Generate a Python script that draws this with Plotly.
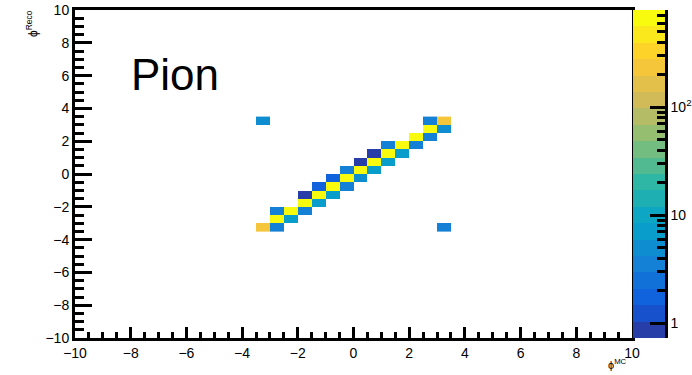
import numpy as np
import plotly.graph_objects as go

# ---------------- data (counts per 0.5 x 0.5 bin) ----------------
bin_centers = [-3.25, -2.75, -2.25, -1.75, -1.25, -0.75, -0.25,
               0.25, 0.75, 1.25, 1.75, 2.25, 2.75, 3.25]
# diagonal (phi_Reco == phi_MC), index k -> (x=k, y=k)
diag_counts = [230, 612, 655, 702, 688, 731, 749, 760, 720, 694, 671, 640, 598, 235]
# one bin below the diagonal, index k -> (x=k, y=k-1); k = 1..13
sub_counts = [None, 3, 7, 3, 7, 7, 4, 5, 7, 7, 7, 4, 4, 5]
# one bin above the diagonal, index k -> (x=k, y=k+1); k = 0..12
super_counts = [None, 3, None, 1, 2, 2, 3, 1, 1, 3, None, None, 4, None]
# wrap-around outliers: (x index, y index, count)
outlier_x = [0, 13]
outlier_y = [13, 0]
outlier_counts = [5, 3]

z_log_min = -0.139
z_log_max = 2.90
n_bands = 20

# ---------------- build matrix ----------------
n = len(bin_centers)
Z = [[None] * n for _ in range(n)]
for k, v in enumerate(diag_counts):
    Z[k][k] = v
for k, v in enumerate(sub_counts):
    if v is not None and k - 1 >= 0:
        Z[k - 1][k] = v
for k, v in enumerate(super_counts):
    if v is not None and k + 1 < n:
        Z[k + 1][k] = v
for xi, yi, v in zip(outlier_x, outlier_y, outlier_counts):
    Z[yi][xi] = v
Zlog = [[(np.log10(v) if v is not None else None) for v in row] for row in Z]

# ---------------- ROOT kBird palette, 20 contour bands ----------------
stops = [0.0, 0.125, 0.25, 0.375, 0.5, 0.625, 0.75, 0.875, 1.0]
red = [0.2082, 0.0592, 0.0780, 0.0232, 0.1802, 0.5301, 0.8186, 0.9956, 0.9764]
green = [0.1664, 0.3599, 0.5041, 0.6419, 0.7178, 0.7492, 0.7328, 0.7862, 0.9832]
blue = [0.5293, 0.8684, 0.8385, 0.7914, 0.6425, 0.4662, 0.3499, 0.1968, 0.0539]


def bird(t):
    r = np.interp(t, stops, red)
    g = np.interp(t, stops, green)
    b = np.interp(t, stops, blue)
    return "rgb(%d,%d,%d)" % (round(r * 255), round(g * 255), round(b * 255))


band_colors = []
for i in range(n_bands):
    idx = int((i + 0.99) * 255 / n_bands)
    band_colors.append(bird(min(idx, 254) / 254))

colorscale = []
for i, c in enumerate(band_colors):
    colorscale.append([i / n_bands, c])
    colorscale.append([(i + 1) / n_bands, c])

W, H = 692, 375
fl, fr, ft, fb = 75, 632, 10, 338
pl, pr = 633, 665

fig = go.Figure()

fig.add_trace(go.Heatmap(
    x=bin_centers, y=bin_centers, z=Zlog,
    zmin=z_log_min, zmax=z_log_max,
    colorscale=colorscale, showscale=False,
    hoverongaps=False,
    xaxis="x", yaxis="y",
))

# palette drawn as its own heatmap on a log-unit axis
band_edges = list(np.linspace(z_log_min, z_log_max, n_bands + 1))
band_mid = [[(band_edges[i] + band_edges[i + 1]) / 2] for i in range(n_bands)]
fig.add_trace(go.Heatmap(
    x=[0, 1], y=band_edges, z=band_mid,
    zmin=z_log_min, zmax=z_log_max,
    colorscale=colorscale, showscale=False,
    xaxis="x2", yaxis="y2",
))

font = "Liberation Sans, Arial, Helvetica, sans-serif"
axis_common = dict(
    showline=True, linecolor="black", linewidth=3, mirror=True,
    ticks="inside", tickcolor="black", tickwidth=2.5,
    showgrid=False, zeroline=False, automargin=False,
    tickfont=dict(family=font, size=14, color="black"),
)

fig.update_layout(
    width=W, height=H,
    margin=dict(l=0, r=0, t=0, b=0),
    paper_bgcolor="white", plot_bgcolor="white",
    xaxis=dict(
        domain=[fl / W, fr / W], range=[-10, 10],
        tickmode="linear", tick0=-10, dtick=2, ticklen=11,
        minor=dict(dtick=0.5, tick0=-10, ticks="inside", ticklen=6,
                   tickwidth=2.5, tickcolor="black", showgrid=False),
        anchor="y", **axis_common,
    ),
    yaxis=dict(
        domain=[1 - fb / H, 1 - ft / H], range=[-10, 10],
        tickmode="linear", tick0=-10, dtick=2, ticklen=17,
        minor=dict(dtick=0.5, tick0=-10, ticks="inside", ticklen=8.5,
                   tickwidth=2.5, tickcolor="black", showgrid=False),
        anchor="x", **axis_common,
    ),
    xaxis2=dict(
        domain=[pl / W, pr / W], range=[0, 1], visible=False,
        anchor="y2", fixedrange=True, automargin=False,
    ),
    yaxis2=dict(
        domain=[1 - fb / H, 1 - ft / H], range=[z_log_min, z_log_max],
        anchor="x2", side="right", automargin=False,
        showline=True, linecolor="black", linewidth=2.5,
        ticks="inside", tickcolor="black", tickwidth=2.5, ticklen=15,
        tickmode="array", tickvals=[0, 1, 2], ticktext=["1", "10", "10<sup>2</sup>"],
        minor=dict(tickmode="array",
                   tickvals=[float(np.log10(m * d)) for d in (1, 10, 100)
                             for m in range(2, 10) if np.log10(m * d) < z_log_max],
                   ticks="inside", ticklen=8, tickwidth=2.5, tickcolor="black",
                   showgrid=False),
        showgrid=False, zeroline=False,
        tickfont=dict(family=font, size=14, color="black"),
    ),
    annotations=[
        dict(text="Pion", xref="paper", yref="paper",
             x=129 / W, y=1 - 74 / H, xanchor="left", yanchor="middle",
             showarrow=False, font=dict(family=font, size=44, color="black")),
        dict(text="ϕ<sup>Reco</sup>", xref="paper", yref="paper",
             x=32 / W, y=1 - 24 / H, xanchor="center", yanchor="middle",
             textangle=-90, showarrow=False,
             font=dict(family=font, size=12, color="black")),
        dict(text="ϕ<sup>MC</sup>", xref="paper", yref="paper",
             x=617 / W, y=1 - 364 / H, xanchor="center", yanchor="middle",
             showarrow=False, font=dict(family=font, size=11, color="black")),
    ],
)

fig.write_html("out.html")
